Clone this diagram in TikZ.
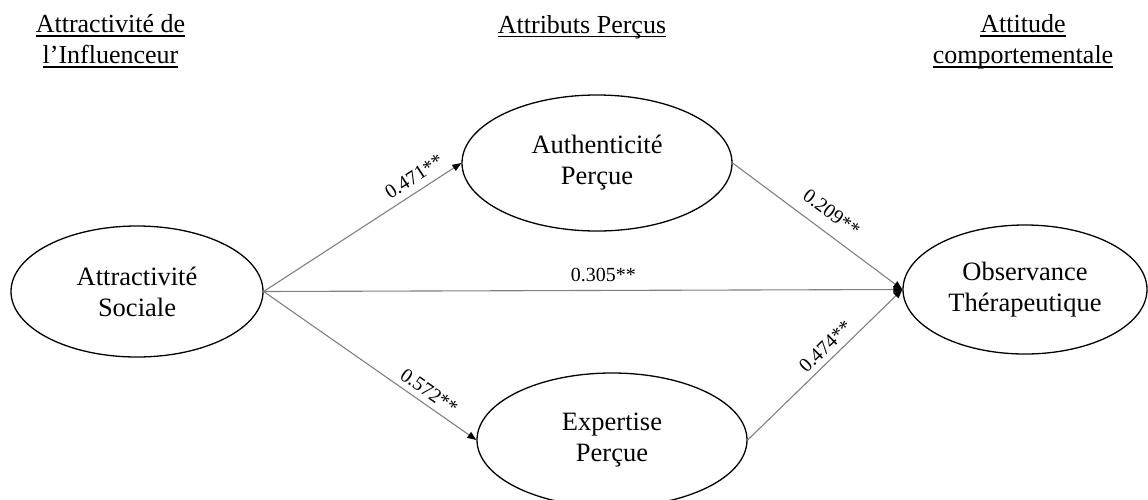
\documentclass[tikz,border=0pt]{standalone}
\usepackage{fontspec}
\setmainfont{Liberation Serif}
\usetikzlibrary{shapes.geometric,arrows.meta}
\definecolor{lineg}{RGB}{128,128,128}
\newcommand{\ulin}[1]{\setbox0\hbox{#1}\rlap{\rule[-4pt]{\wd0}{1.2pt}}\box0}
\begin{document}
\begin{tikzpicture}[x=1pt,y=-1pt,
  latent/.style={ellipse,draw=black,line width=1.3pt,inner sep=0pt,font=\fontsize{26.5}{31}\selectfont,align=center},
  hdr/.style={font=\fontsize{26}{31}\selectfont,align=center,inner sep=0pt},
  conn/.style={draw=lineg,line width=1.1pt,-{Triangle[length=9pt,width=7pt,color=black]}},
  coef/.style={font=\fontsize{20}{22}\selectfont,inner sep=0pt,sloped}
]
\useasboundingbox (0,0) rectangle (1148,499);
\node[latent,minimum width=252pt,minimum height=131pt] (soc) at (137,291.5) {Attractivité\\Sociale};
\node[latent,minimum width=270pt,minimum height=136pt] (auth) at (597,163) {Authenticité\\Perçue};
\node[latent,minimum width=270pt,minimum height=134pt] (exp) at (612,440) {Expertise\\Perçue};
\node[latent,minimum width=244pt,minimum height=129pt] (obs) at (1025,289.5) {Observance\\Thérapeutique};

\node[hdr,anchor=base] (h1) at (110.5,63.5) {\ulin{Attractivité de}\\\ulin{l’Influenceur}};
\node[hdr,anchor=base] (h2) at (582,33) {\ulin{Attributs Perçus}};
\node[hdr,anchor=base] (h3) at (1023,63.5) {\ulin{Attitude}\\\ulin{comportementale}};

\draw[conn] (soc.east) -- node[coef,pos=0.80,above=7pt]{0.471**} (auth.west);
\draw[conn] (soc.east) -- node[coef,pos=0.744,above=5.5pt]{0.572**} (exp.west);
\draw[conn] (soc.east) -- node[coef,pos=0.532,above=8pt]{0.305**} (obs.west);
\draw[conn] (auth.east) -- node[coef,pos=0.515,above=12pt]{0.209**} (obs.west);
\draw[conn] (exp.east) -- node[coef,pos=0.56,above=5.5pt]{0.474**} (obs.west);
\end{tikzpicture}
\end{document}
